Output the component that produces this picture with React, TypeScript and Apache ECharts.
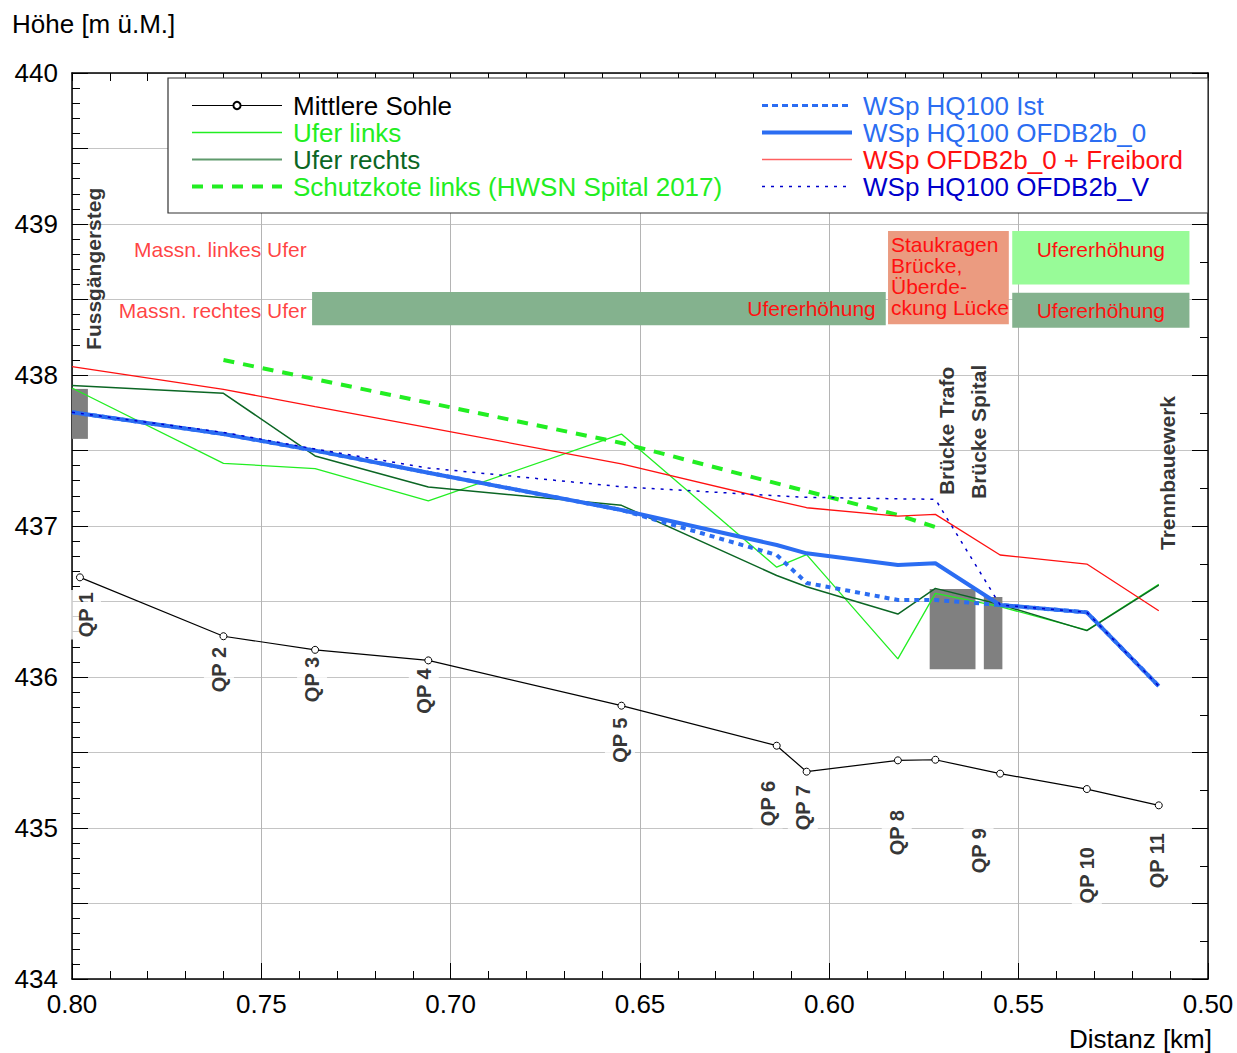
import React, { useEffect, useRef } from 'react';
import * as echarts from 'echarts';

const FONT = '"Liberation Sans", Arial, Helvetica, sans-serif';

// ---- data ----
const stationKm = [0.80, 0.760, 0.7358, 0.7059, 0.6549, 0.6139, 0.6060, 0.5819, 0.5720, 0.5549, 0.5320, 0.5130];
const sohleKm = [0.7979, 0.760, 0.7358, 0.7059, 0.6549, 0.6139, 0.6060, 0.5819, 0.5720, 0.5549, 0.5320, 0.5130];
const sohleH = [436.66, 436.27, 436.18, 436.11, 435.81, 435.545, 435.373, 435.448, 435.452, 435.36, 435.258, 435.15];
const uferLinksH = [437.914, 437.415, 437.38, 437.166, 437.609, 436.727, 436.81, 436.12, 436.554, 436.466, 436.31, 436.614];
const uferRechtsH = [437.93, 437.879, 437.464, 437.258, 437.137, 436.672, 436.598, 436.417, 436.587, 436.48, 436.307, 436.609];
const freibordH = [438.055, 437.905, 437.79, 437.652, 437.411, 437.167, 437.121, 437.066, 437.077, 436.808, 436.748, 436.439];
const ofdb0H = [437.753, 437.609, 437.499, 437.353, 437.106, 436.874, 436.819, 436.742, 436.753, 436.477, 436.428, 435.94];
const istH = [437.753, 437.609, 437.499, 437.353, 437.106, 436.808, 436.623, 436.51, 436.51, 436.477, 436.428, 435.94];
const ofdbVH = [437.753, 437.62, 437.51, 437.384, 437.26, 437.2, 437.19, 437.18, 437.177, 436.477, 436.428, 435.94];
const schutzKm = [0.760, 0.6549, 0.5819, 0.5720];
const schutzH = [438.099, 437.55, 437.073, 436.993];

const qpNames = ['QP 1', 'QP 2', 'QP 3', 'QP 4', 'QP 5', 'QP 6', 'QP 7', 'QP 8', 'QP 9', 'QP 10', 'QP 11'];
const qpLabelKm = [0.7963, 0.7612, 0.7366, 0.7071, 0.6553, 0.6163, 0.6070, 0.5822, 0.5606, 0.5320, 0.5136];
const qpLabelH = [436.576, 436.212, 436.146, 436.07, 435.745, 435.325, 435.298, 435.132, 435.013, 434.887, 434.98];

const structNames = ['Fussgängersteg', 'Brücke Trafo', 'Brücke Spital', 'Trennbauewerk'];
const structLabelKm = [0.7942, 0.5690, 0.5606, 0.5107];
const structLabelH = [438.166, 437.205, 437.179, 436.841];

const massnNames = ['Massn. linkes Ufer', 'Massn. rechtes Ufer'];
const massnKm = [0.738, 0.738];
const massnH = [438.834, 438.43];

const structRectKm = [[0.80, 0.7958], [0.5735, 0.5614], [0.5592, 0.5543]];
const structRectH = [[437.577, 437.908], [436.051, 436.583], [436.051, 436.53]];

const measureLabels = ['Ufererhöhung', 'Staukragen\nBrücke,\nÜberde-\nckung Lücke', 'Ufererhöhung', 'Ufererhöhung'];
const measureKm = [[0.7366, 0.5851], [0.5845, 0.5526], [0.5517, 0.5049], [0.5517, 0.5049]];
const measureH = [[438.33, 438.55], [438.336, 438.954], [438.6, 438.954], [438.313, 438.545]];

// ---- styles ----
const measureColors = ['#84b28e', '#eb9b80', '#98fb98', '#84b28e'];
const measurePos = ['insideRight', 'insideTopLeft', 'insideTop', 'inside'];
const measureDist = [10, 3, 8, 0];

const BLUE = '#2b6df2';
const GREEN = '#22ee22';
const DGREEN = '#0b6624';
const RED = '#ff1010';
const DBLUE = '#0000cc';

const pairs = (xs: number[], ys: number[]) => xs.map((x, i) => [x, ys[i]]);

const legendItem = (name: string, c: string, lineColor: string, width: number, type: any, hideSymbol = true) => ({
  name,
  textStyle: { color: c },
  lineStyle: { color: lineColor, width, type },
  ...(hideSymbol ? { itemStyle: { opacity: 0 } } : {}),
});

export default function App() {
  const ref = useRef<HTMLDivElement>(null);
  useEffect(() => {
    const chart = echarts.init(ref.current as HTMLDivElement, null, { renderer: 'svg' });
    const axisLine = { show: true, onZero: false, lineStyle: { color: '#000', width: 1.5 } };
    const legendBase = {
      orient: 'vertical', top: 92, padding: 0, itemGap: 0, itemWidth: 90, itemHeight: 9, z: 6,
      textStyle: { fontSize: 26, fontFamily: FONT, lineHeight: 27, padding: [0, 0, 0, 6] },
    };
    const option: any = {
      animation: false,
      backgroundColor: '#fff',
      textStyle: { fontFamily: FONT },
      grid: { left: 72, right: 29, top: 73, bottom: 74, containLabel: false },
      xAxis: [
        {
          type: 'value', min: 0.5, max: 0.8, interval: 0.05, inverse: true, position: 'bottom',
          axisLine,
          axisTick: { show: true, inside: true, length: 16, lineStyle: { color: '#000', width: 1 } },
          minorTick: { show: true, splitNumber: 5, length: 8, lineStyle: { color: '#000', width: 1 } },
          axisLabel: { fontSize: 26, color: '#000', fontFamily: FONT, margin: 12, formatter: (v: number) => v.toFixed(2) },
          splitLine: { show: true, lineStyle: { color: '#b4b4b4', width: 1 } },
        },
        {
          type: 'value', min: 0.5, max: 0.8, interval: 0.01, inverse: true, position: 'top',
          axisLine,
          axisTick: { show: true, inside: true, length: 8, lineStyle: { color: '#000', width: 1 } },
          axisLabel: { show: false },
          splitLine: { show: false },
        },
      ],
      yAxis: [
        {
          type: 'value', min: 434, max: 440, interval: 0.5, position: 'left',
          axisLine,
          axisTick: { show: true, inside: true, length: 16, lineStyle: { color: '#000', width: 1 } },
          minorTick: { show: true, splitNumber: 5, length: 8, lineStyle: { color: '#000', width: 1 } },
          axisLabel: {
            fontSize: 26, color: '#000', fontFamily: FONT, margin: 14,
            formatter: (v: number) => (Number.isInteger(v) ? String(v) : ''),
          },
          splitLine: { show: true, lineStyle: { color: '#c4c4c4', width: 1 } },
        },
        {
          type: 'value', min: 434, max: 440, interval: 0.5, position: 'right',
          axisLine,
          axisTick: { show: true, inside: true, length: 16, lineStyle: { color: '#000', width: 1 } },
          minorTick: { show: true, splitNumber: 2, length: 8, lineStyle: { color: '#000', width: 1 } },
          axisLabel: { show: false },
          splitLine: { show: false },
        },
      ],
      legend: [
        {
          ...legendBase, left: 190,
          data: [
            legendItem('Mittlere Sohle', '#000', '#000', 1.2, 'solid', false),
            legendItem('Ufer links', GREEN, GREEN, 1.3, 'solid'),
            legendItem('Ufer rechts', DGREEN, '#5f9a6c', 2, 'solid'),
            legendItem('Schutzkote links (HWSN Spital 2017)', GREEN, GREEN, 4, [11, 9]),
          ],
        },
        {
          ...legendBase, left: 760,
          data: [
            legendItem('WSp HQ100 Ist', BLUE, BLUE, 3, [6, 4]),
            legendItem('WSp HQ100 OFDB2b_0', BLUE, BLUE, 4, 'solid'),
            legendItem('WSp OFDB2b_0 + Freibord', RED, '#ff6060', 1.5, 'solid'),
            legendItem('WSp HQ100 OFDB2b_V', DBLUE, DBLUE, 1.3, [3, 6]),
          ],
        },
      ],
      graphic: [
        {
          type: 'rect', z: 5, silent: true,
          shape: { x: 168, y: 78, width: 1040, height: 135 },
          style: { fill: '#fff', stroke: '#333', lineWidth: 1.2 },
        },
        {
          type: 'text', left: 12, top: 11,
          style: { text: 'Höhe [m ü.M.]', font: `26px ${FONT}`, fill: '#000' },
        },
        {
          type: 'text', right: 25, top: 1026,
          style: { text: 'Distanz [km]', font: `26px ${FONT}`, fill: '#000' },
        },
      ],
      series: [
        {
          name: 'areas', type: 'scatter', data: [], z: -1, silent: true,
          markArea: {
            silent: true,
            data: [
              ...structRectKm.map((km, i) => [
                { coord: [km[0], structRectH[i][0]], itemStyle: { color: '#808080' }, label: { show: false } },
                { coord: [km[1], structRectH[i][1]] },
              ]),
              ...measureKm.map((km, i) => [
                {
                  coord: [km[0], measureH[i][0]],
                  itemStyle: { color: measureColors[i] },
                  label: {
                    show: true, position: measurePos[i], distance: measureDist[i], formatter: measureLabels[i],
                    color: RED, fontSize: 21, lineHeight: 21, fontFamily: FONT, align: i === 1 ? 'left' : undefined,
                  },
                },
                { coord: [km[1], measureH[i][1]] },
              ]),
            ],
          },
        },
        {
          name: 'Mittlere Sohle', type: 'line', z: 3,
          data: pairs(sohleKm, sohleH),
          symbol: 'circle', symbolSize: 7,
          itemStyle: { color: '#fff', borderColor: '#000', borderWidth: 1 },
          lineStyle: { color: '#000', width: 1.2 },
        },
        {
          name: 'Ufer links', type: 'line', z: 3, showSymbol: false, symbol: 'none',
          data: pairs(stationKm, uferLinksH),
          itemStyle: { color: GREEN }, lineStyle: { color: GREEN, width: 1.3 },
        },
        {
          name: 'Ufer rechts', type: 'line', z: 3, showSymbol: false, symbol: 'none',
          data: pairs(stationKm, uferRechtsH),
          itemStyle: { color: DGREEN }, lineStyle: { color: DGREEN, width: 1.5 },
        },
        {
          name: 'Schutzkote links (HWSN Spital 2017)', type: 'line', z: 3, showSymbol: false, symbol: 'none',
          data: pairs(schutzKm, schutzH),
          itemStyle: { color: GREEN }, lineStyle: { color: GREEN, width: 4, type: [11, 9] },
        },
        {
          name: 'WSp OFDB2b_0 + Freibord', type: 'line', z: 3, showSymbol: false, symbol: 'none',
          data: pairs(stationKm, freibordH),
          itemStyle: { color: RED }, lineStyle: { color: RED, width: 1.3 },
        },
        {
          name: 'WSp HQ100 Ist', type: 'line', z: 4, showSymbol: false, symbol: 'none',
          data: pairs(stationKm, istH),
          itemStyle: { color: BLUE }, lineStyle: { color: BLUE, width: 4, type: [5, 5] },
        },
        {
          name: 'WSp HQ100 OFDB2b_0', type: 'line', z: 4, showSymbol: false, symbol: 'none',
          data: pairs(stationKm, ofdb0H),
          itemStyle: { color: BLUE }, lineStyle: { color: BLUE, width: 4 },
        },
        {
          name: 'WSp HQ100 OFDB2b_V', type: 'line', z: 4, showSymbol: false, symbol: 'none',
          data: pairs(stationKm, ofdbVH),
          itemStyle: { color: DBLUE }, lineStyle: { color: DBLUE, width: 1.5, type: [3, 6] },
        },
        {
          name: 'qp', type: 'scatter', z: 5, silent: true, symbolSize: 1,
          itemStyle: { color: 'rgba(0,0,0,0)' },
          data: pairs(qpLabelKm, qpLabelH),
          label: {
            show: true, position: 'inside', rotate: 90, align: 'right', verticalAlign: 'middle',
            fontSize: 20, fontWeight: 'bold', fontFamily: FONT, color: '#000',
            backgroundColor: '#fff', padding: [5, 2],
            formatter: (p: any) => qpNames[p.dataIndex],
          },
        },
        {
          name: 'struct', type: 'scatter', z: 5, silent: true, symbolSize: 1,
          itemStyle: { color: 'rgba(0,0,0,0)' },
          data: pairs(structLabelKm, structLabelH),
          label: {
            show: true, position: 'inside', rotate: 90, align: 'left', verticalAlign: 'middle',
            fontSize: 21, fontWeight: 'bold', fontFamily: FONT, color: '#000',
            formatter: (p: any) => structNames[p.dataIndex],
          },
        },
        {
          name: 'massn', type: 'scatter', z: 5, silent: true, symbolSize: 1,
          itemStyle: { color: 'rgba(0,0,0,0)' },
          data: pairs(massnKm, massnH),
          label: {
            show: true, position: 'inside', align: 'right', verticalAlign: 'middle',
            fontSize: 21, fontFamily: FONT, color: RED,
            formatter: (p: any) => massnNames[p.dataIndex],
          },
        },
      ],
    };
    chart.setOption(option);
    return () => chart.dispose();
  }, []);
  return (
    <div
      ref={ref}
      style={{ position: 'fixed', left: 0, top: 0, width: 1237, height: 1053, background: '#fff' }}
    />
  );
}
